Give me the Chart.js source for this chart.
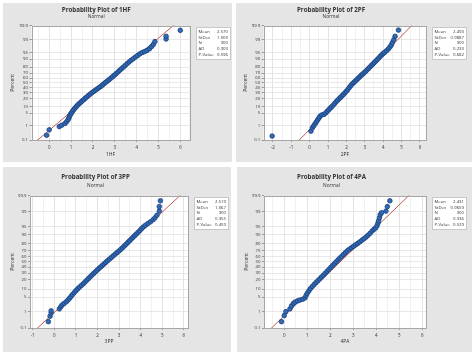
<!DOCTYPE html>
<html>
<head>
<meta charset="utf-8">
<script src="https://cdn.jsdelivr.net/npm/chart.js@4.4.1/dist/chart.umd.min.js"></script>
<style>
  body { margin: 0; background: #fff; width: 474px; height: 358px; position: relative; overflow: hidden; }
  .panel { position: absolute; background: #e5e5e5; }
  .panel canvas { display: block; }
</style>
</head>
<body>
<div class="panel" style="left:3px;top:3px;width:229px;height:159px"><canvas id="c1" width="229" height="159"></canvas></div>
<div class="panel" style="left:236px;top:3px;width:236px;height:159px"><canvas id="c2" width="236" height="159"></canvas></div>
<div class="panel" style="left:3px;top:167px;width:228px;height:185px"><canvas id="c3" width="228" height="185"></canvas></div>
<div class="panel" style="left:237px;top:167px;width:235px;height:185px"><canvas id="c4" width="235" height="185"></canvas></div>
<script>
// percent tick labels of the probability axis
const pctTicks = [0.1, 1, 5, 10, 20, 30, 40, 50, 60, 70, 80, 90, 95, 99, 99.9];
const statNames = ['Mean', 'StDev', 'N', 'AD', 'P-Value'];

// 1HF
const hfTicks = [0, 1, 2, 3, 4, 5, 6];
const hfX = [-0.12, 0.0, 0.46, 0.57, 0.72, 0.8, 0.86, 0.9, 0.93, 0.97, 1.02, 1.07, 1.12, 1.18, 1.24, 1.3, 1.37, 1.44, 1.5, 1.57, 1.64, 1.71, 1.79, 1.87, 1.95, 2.03, 2.11, 2.19, 2.27, 2.35, 2.43, 2.5, 2.58, 2.66, 2.74, 2.82, 2.9, 2.98, 3.06, 3.14, 3.22, 3.3, 3.38, 3.47, 3.56, 3.65, 3.74, 3.84, 3.94, 4.04, 4.14, 4.25, 4.36, 4.47, 4.58, 4.68, 4.76, 4.83, 5.34, 5.34, 5.99];
const hfP = [0.23, 0.55, 0.9, 1.1, 1.4, 1.8, 2.3, 2.9, 3.6, 4.4, 5.3, 6.3, 7.4, 8.6, 10, 11.5, 13, 14.6, 16.2, 18, 20, 22, 24.5, 27, 29.5, 32, 34.5, 37, 39.5, 42, 45, 48, 51, 54, 57, 60, 63, 66, 69, 72, 75, 77.5, 80, 82.5, 85, 87, 88.8, 90.3, 91.8, 93, 94.1, 94.9, 95.4, 96, 96.7, 97.5, 98.1, 98.7, 99.1, 99.4, 99.77];
const hfStats = ['2.570', '1.003', '300', '0.303', '0.596'];

// 2PF
const pfTicks = [-2, -1, 0, 1, 2, 3, 4, 5, 6];
const pfX = [-2.04, 0.07, 0.15, 0.22, 0.29, 0.36, 0.43, 0.5, 0.56, 0.66, 0.78, 0.88, 0.96, 1.04, 1.12, 1.2, 1.28, 1.36, 1.44, 1.52, 1.6, 1.68, 1.76, 1.84, 1.92, 2.0, 2.08, 2.16, 2.24, 2.32, 2.4, 2.48, 2.56, 2.64, 2.72, 2.8, 2.88, 2.96, 3.04, 3.12, 3.2, 3.28, 3.36, 3.44, 3.52, 3.6, 3.68, 3.76, 3.84, 3.92, 4.0, 4.08, 4.18, 4.28, 4.36, 4.44, 4.5, 4.58, 4.65, 4.83];
const pfP = [0.2, 0.45, 0.75, 1.0, 1.3, 1.7, 2.2, 2.8, 3.5, 4.1, 4.4, 5.2, 6.2, 7.3, 8.5, 9.8, 11.3, 13.2, 15.3, 17.2, 19.3, 21.5, 24, 26.5, 29.5, 32.5, 36, 40, 44, 47.5, 50.5, 53.5, 56.5, 59.5, 62.5, 65.5, 68, 70.5, 73, 75.5, 78, 80.3, 82.5, 84.5, 86.3, 88, 89.5, 91, 92.3, 93.4, 94.3, 95, 95.8, 96.6, 97.3, 97.9, 98.5, 99.0, 99.4, 99.78];
const pfStats = ['2.493', '0.9887', '300', '0.233', '0.682'];

// 3PP
const ppTicks = [-1, 0, 1, 2, 3, 4, 5, 6];
const ppX = [-0.28, -0.2, -0.15, -0.15, 0.23, 0.3, 0.36, 0.45, 0.55, 0.63, 0.7, 0.77, 0.84, 0.92, 1.0, 1.08, 1.16, 1.25, 1.34, 1.42, 1.5, 1.58, 1.66, 1.74, 1.82, 1.9, 1.98, 2.06, 2.14, 2.22, 2.3, 2.38, 2.46, 2.55, 2.64, 2.73, 2.82, 2.91, 3.0, 3.08, 3.16, 3.24, 3.32, 3.4, 3.48, 3.56, 3.64, 3.72, 3.8, 3.88, 3.96, 4.04, 4.12, 4.22, 4.33, 4.45, 4.57, 4.66, 4.75, 4.86, 4.86, 4.91];
const ppP = [0.26, 0.55, 0.85, 1.1, 1.4, 1.8, 2.2, 2.6, 3.1, 3.7, 4.4, 5.3, 6.3, 7.5, 8.9, 10.3, 11.8, 13.5, 15.3, 17.3, 19.5, 21.8, 24.2, 26.8, 29.4, 32, 34.8, 37.6, 40.4, 43.2, 46, 49, 52, 55, 58, 61, 64, 66.8, 69.5, 72, 74.5, 77, 79.3, 81.5, 83.6, 85.5, 87.3, 88.9, 90.3, 91.6, 92.8, 93.9, 94.8, 95.6, 96.3, 96.9, 97.5, 98.0, 98.5, 99.1, 99.5, 99.78];
const ppStats = ['2.519', '1.067', '300', '0.355', '0.459'];

// 4PA
const paTicks = [0, 1, 2, 3, 4, 5, 6];
const paX = [-0.12, 0.0, 0.07, 0.25, 0.32, 0.4, 0.47, 0.58, 0.68, 0.8, 0.9, 0.95, 1.0, 1.07, 1.14, 1.22, 1.3, 1.38, 1.46, 1.54, 1.62, 1.7, 1.78, 1.86, 1.94, 2.02, 2.1, 2.18, 2.26, 2.34, 2.42, 2.5, 2.58, 2.66, 2.74, 2.83, 2.92, 3.01, 3.1, 3.19, 3.28, 3.37, 3.46, 3.55, 3.64, 3.73, 3.82, 3.9, 3.97, 4.03, 4.07, 4.1, 4.14, 4.17, 4.23, 4.42, 4.48, 4.59];
const paP = [0.26, 0.6, 1.0, 1.4, 2.0, 2.6, 3.0, 3.4, 3.7, 4.0, 4.6, 5.8, 7.1, 8.7, 10.6, 12.5, 14.5, 16.6, 18.8, 21.2, 23.8, 26.5, 29.5, 32.7, 36, 39.5, 43, 46.5, 50, 53.5, 57, 60.3, 63.5, 66.5, 69.5, 72, 74.3, 76.5, 78.5, 80.4, 82.3, 84.2, 85.8, 87.5, 89.2, 90.8, 92.5, 93.5, 94.3, 95.3, 96.4, 97.2, 98.0, 98.6, 98.9, 99.1, 99.5, 99.78];
const paStats = ['2.431', '0.9659', '300', '0.336', '0.529'];

const FONT = "'Open Sans', 'Noto Sans', sans-serif";

// inverse normal cdf (Acklam), used for the probability axis
function probit(p) {
  const a = [-3.969683028665376e+01, 2.209460984245205e+02, -2.759285104469687e+02, 1.383577518672690e+02, -3.066479806614716e+01, 2.506628277459239e+00];
  const b = [-5.447609879822406e+01, 1.615858368580409e+02, -1.556989798598866e+02, 6.680131188771972e+01, -1.328068155922803e+01];
  const c = [-7.784894002430293e-03, -3.223964580411365e-01, -2.400758277161838e+00, -2.549671010208442e+00, 4.374664141464968e+00, 2.938163982698783e+00];
  const d = [7.784695709041462e-03, 3.224671290700398e-01, 2.445134137142996e+00, 3.754408661907416e+00];
  let q, r;
  if (p < 0.02425) {
    q = Math.sqrt(-2 * Math.log(p));
    return (((((c[0]*q+c[1])*q+c[2])*q+c[3])*q+c[4])*q+c[5]) / ((((d[0]*q+d[1])*q+d[2])*q+d[3])*q+1);
  }
  if (p > 1 - 0.02425) {
    q = Math.sqrt(-2 * Math.log(1 - p));
    return -(((((c[0]*q+c[1])*q+c[2])*q+c[3])*q+c[4])*q+c[5]) / ((((d[0]*q+d[1])*q+d[2])*q+d[3])*q+1);
  }
  q = p - 0.5; r = q * q;
  return (((((a[0]*r+a[1])*r+a[2])*r+a[3])*r+a[4])*r+a[5])*q / (((((b[0]*r+b[1])*r+b[2])*r+b[3])*r+b[4])*r+1);
}

// white plot area, frame and the stats box
const framePlugin = {
  id: 'frame',
  beforeDraw(chart) {
    const a = chart.chartArea, ctx = chart.ctx;
    ctx.save();
    ctx.fillStyle = '#fff';
    ctx.fillRect(a.left, a.top, a.right - a.left, a.bottom - a.top);
    ctx.restore();
  },
  afterDraw(chart) {
    const a = chart.chartArea, ctx = chart.ctx;
    const stats = chart.options.plugins.frame.stats;
    ctx.save();
    ctx.strokeStyle = '#a6a6a6';
    ctx.lineWidth = 1;
    ctx.strokeRect(Math.round(a.left) + 0.5, Math.round(a.top) + 0.5, Math.round(a.right - a.left), Math.round(a.bottom - a.top));
    // stats box
    const bx = Math.round(a.right) + 6, by = Math.round(a.top) + 1, bw = 34, bh = 32;
    ctx.fillStyle = '#fff';
    ctx.fillRect(bx, by, bw, bh);
    ctx.strokeStyle = '#c8c8c8';
    ctx.strokeRect(bx + 0.5, by + 0.5, bw, bh);
    ctx.fillStyle = '#333';
    ctx.font = '4.3px ' + FONT;
    ctx.textBaseline = 'middle';
    statNames.forEach((n, i) => {
      const y = by + 4.5 + i * 5.8;
      ctx.textAlign = 'left';
      ctx.fillText(n, bx + 2.5, y);
      ctx.textAlign = 'right';
      ctx.fillText(stats[i], bx + bw - 2, y);
    });
    ctx.restore();
  }
};

function makeChart(id, name, xs, ps, stats, xTicks, xMin, xMax, box) {
  const mean = Number(stats[0]), sd = Number(stats[1]);
  const zLo = probit(0.0005), zHi = probit(0.9995);
  new Chart(document.getElementById(id), {
    type: 'scatter',
    data: {
      datasets: [{
        type: 'line',
        data: [{ x: mean + sd * zLo, y: zLo }, { x: mean + sd * zHi, y: zHi }],
        borderColor: '#c4584f',
        borderWidth: 1,
        pointRadius: 0,
        order: 2
      }, {
        data: xs.map((x, i) => ({ x: x, y: probit(ps[i] / 100) })),
        backgroundColor: '#3469b3',
        borderColor: '#17407e',
        borderWidth: 0.8,
        pointRadius: 2.3,
        order: 1
      }]
    },
    plugins: [framePlugin],
    options: {
      responsive: false,
      animation: false,
      layout: { padding: { right: box.right } },
      plugins: {
        legend: { display: false },
        tooltip: { enabled: false },
        frame: { stats: stats },
        title: {
          display: true,
          text: 'Probability Plot of ' + name,
          color: '#333',
          font: { family: FONT, size: 6.2, weight: 'bold' },
          padding: { top: box.titleTop, bottom: box.titleGap }
        },
        subtitle: {
          display: true,
          text: 'Normal',
          color: '#333',
          font: { family: FONT, size: 4.8 },
          padding: { top: 0, bottom: box.subBottom }
        }
      },
      scales: {
        x: {
          type: 'linear',
          min: xMin,
          max: xMax,
          afterFit: s => { s.height = box.bottom; },
          // major ticks from the list plus a minor gridline halfway
          afterBuildTicks: s => {
            const t = [];
            xTicks.forEach(v => {
              t.push({ value: v, major: true });
              if (v + 0.5 <= xMax) t.push({ value: v + 0.5 });
            });
            if (xTicks[0] - 0.5 >= xMin) t.unshift({ value: xTicks[0] - 0.5 });
            s.ticks = t;
          },
          ticks: {
            color: '#333',
            font: { family: FONT, size: 4.5 },
            padding: box.xTickPad,
            maxRotation: 0,
            autoSkip: false,
            callback: v => Number.isInteger(v) ? String(v) : ''
          },
          grid: {
            color: c => Number.isInteger(c.tick.value) ? '#dcdcdc' : '#ededed',
            tickColor: c => Number.isInteger(c.tick.value) ? '#888' : 'rgba(0,0,0,0)',
            tickLength: 2,
            lineWidth: 0.8
          },
          border: { display: false },
          title: {
            display: true,
            text: name,
            color: '#333',
            font: { family: FONT, size: 5 },
            padding: { top: 0, bottom: box.xTitleBottom }
          }
        },
        y: {
          type: 'linear',
          min: probit(0.001),
          max: probit(0.999),
          afterFit: s => { s.width = box.left; },
          afterBuildTicks: s => { s.ticks = pctTicks.map(p => ({ value: probit(p / 100) })); },
          ticks: {
            autoSkip: false,
            color: '#333',
            font: { family: FONT, size: 4.3 },
            padding: 1.5,
            callback: (v, i) => String(pctTicks[i])
          },
          grid: { color: '#e2e2e2', tickColor: '#888', tickLength: 2, lineWidth: 0.8 },
          border: { display: false },
          title: {
            display: true,
            text: 'Percent',
            color: '#333',
            font: { family: FONT, size: 5 },
            padding: { top: box.yTitleLeft, bottom: 0 }
          }
        }
      }
    }
  });
}

makeChart('c1', '1HF', hfX, hfP, hfStats, hfTicks, -0.81, 6.41,
  { left: 28.5, right: 42.5, bottom: 22, titleTop: 3.2, titleGap: 0.4, subBottom: 5.8, xTickPad: 3, xTitleBottom: 4, yTitleLeft: 7 });
makeChart('c2', '2PF', pfX, pfP, pfStats, pfTicks, -2.5, 6.33,
  { left: 27.7, right: 46, bottom: 22, titleTop: 3.2, titleGap: 0.4, subBottom: 5.8, xTickPad: 3, xTitleBottom: 4, yTitleLeft: 7 });
makeChart('c3', '3PP', ppX, ppP, ppStats, ppTicks, -1.13, 6.19,
  { left: 27, right: 43, bottom: 24, titleTop: 6.2, titleGap: 2.2, subBottom: 7, xTickPad: 3, xTitleBottom: 7, yTitleLeft: 7 });
makeChart('c4', '4PA', paX, paP, paStats, paTicks, -0.88, 6.16,
  { left: 27, right: 46, bottom: 24, titleTop: 6.2, titleGap: 2.2, subBottom: 7, xTickPad: 3, xTitleBottom: 7, yTitleLeft: 7 });
</script>
</body>
</html>
